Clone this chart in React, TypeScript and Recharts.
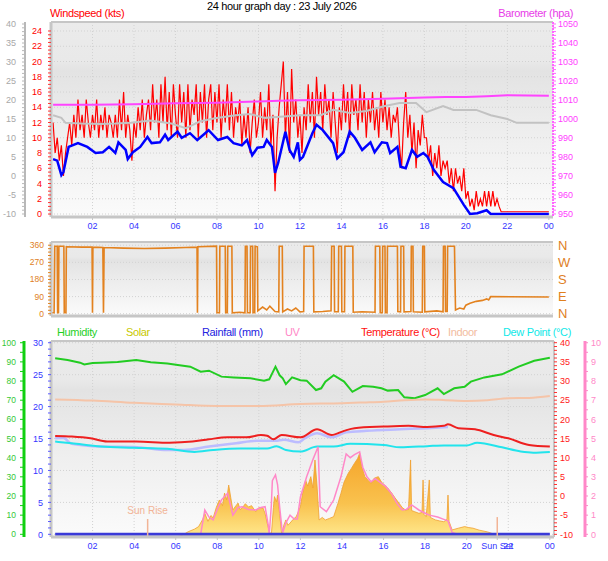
import React from "react";
import {
  ComposedChart,
  Line,
  Area,
  XAxis,
  YAxis,
  CartesianGrid,
  ReferenceLine,
} from "recharts";

const FONT = '"Liberation Sans", Arial, sans-serif';

// x axis (hours of the day)
const hourTicks = [2, 4, 6, 8, 10, 12, 14, 16, 18, 20, 22, 24];
const sunRise = 4.65;
const sunSet = 21.47;

// ---- top panel ----
// wind gusts (kts), one reading every 6 minutes starting 00:06
const gustStart = 0.1;
const gustStep = 0.1;
const gustKts = [
  12, 8, 10, 7, 9, 5, 8, 10, 12, 9,
  13, 10, 15, 11, 13, 10, 15, 12, 10, 13,
  11, 15, 10, 13, 11, 14, 10, 13, 12, 10,
  13, 10, 15, 11, 16, 10, 13, 11, 7, 12,
  10, 14, 11, 15, 10, 13, 15, 11, 17, 12,
  15, 10, 17, 12, 18, 11, 16, 10, 17, 13,
  10, 17, 12, 16, 10, 17, 11, 15, 13, 17,
  10, 16, 12, 17, 10, 15, 17, 11, 16, 12,
  17, 10, 15, 12, 17, 11, 16, 10, 14, 12,
  15, 9, 13, 10, 14, 8, 12, 15, 10, 12,
  16, 10, 14, 11, 17, 9, 13, 3, 10, 14,
  17, 20, 10, 16, 8, 19, 12, 15, 10, 13,
  8, 14, 11, 17, 12, 16, 10, 18, 13, 16,
  11, 17, 13, 15, 10, 16, 12, 8, 14, 11,
  17, 12, 16, 10, 17, 13, 15, 11, 17, 12,
  16, 10, 15, 12, 16, 11, 14, 10, 16, 12,
  15, 11, 14, 10, 13, 12, 14, 9, 6, 12,
  16, 10, 13, 8, 12, 6, 11, 9, 13, 10,
  10, 7, 9, 5, 8, 6, 9, 5, 7, 6,
  7, 4, 6, 3, 6, 4, 5, 3, 6, 2,
  3, 1, 2, 0.5, 3, 1, 2, 1, 3, 1,
  3, 1, 3, 1, 2, 1,
];
const gustTail = [[21.7, 0.3], [24, 0.3]];

// average wind speed (kts) [hour, value]
const avgKts = [
  [0.1, 7.2], [0.3, 7.0], [0.5, 5.1], [0.6, 5.5], [0.85, 8.8], [1.3, 9.3], [1.75, 8.8],
  [2.15, 8.0], [2.5, 8.1], [2.8, 8.8], [3.1, 8.0], [3.25, 9.4], [3.6, 8.4], [3.7, 7.2],
  [3.95, 8.1], [4.3, 8.8], [4.65, 10.1], [4.85, 9.3], [5.25, 9.4], [5.5, 10.4], [5.65, 9.7],
  [6.1, 10.8], [6.3, 10.0], [6.7, 10.6], [7.05, 9.7], [7.35, 10.4], [7.6, 11.0], [8.05, 9.7],
  [8.5, 10.1], [8.8, 9.3], [9.2, 9.0], [9.45, 9.7], [9.7, 7.7], [9.95, 8.7], [10.25, 8.8],
  [10.4, 9.7], [10.65, 8.8], [10.8, 5.4], [10.95, 6.7], [11.3, 10.8], [11.5, 8.4], [11.7, 7.5],
  [11.9, 9.4], [12.0, 7.1], [12.15, 7.5], [12.6, 10.6], [12.8, 11.7], [13.1, 11.0], [13.6, 9.3],
  [13.8, 7.3], [14.1, 8.1], [14.4, 10.8], [14.65, 10.0], [15.0, 8.4], [15.4, 9.4], [15.6, 8.1],
  [15.95, 9.4], [16.2, 9.3], [16.35, 8.0], [16.7, 8.8], [16.85, 6.2], [17.1, 6.0], [17.4, 8.4],
  [17.65, 7.5], [17.95, 8.0], [18.15, 7.5], [18.45, 5.8], [18.9, 4.2], [19.4, 3.4], [19.9, 1.2],
  [20.2, 0], [20.55, 0.1], [21.0, 0.5], [21.2, 0], [21.5, 0], [24, 0],
];

// grey trace read on the grey scale at the far left [hour, value]
const greyTrace = [
  [0.1, 16.0], [0.5, 15.3], [0.7, 14.0], [1.45, 13.8], [2.4, 13.7], [3.1, 13.8], [3.85, 14.0],
  [4.8, 14.6], [5.8, 13.8], [6.5, 12.6], [7.2, 14.4], [7.9, 15.2], [8.9, 16.0], [9.6, 16.3],
  [10.3, 15.3], [11.05, 15.6], [12.0, 16.0], [13.0, 16.0], [13.6, 17.4], [14.4, 16.6],
  [15.2, 17.1], [16.1, 18.4], [16.8, 19.2], [17.6, 19.2], [18.1, 16.8], [18.9, 18.4],
  [19.4, 17.4], [20.5, 17.4], [21.2, 16.0], [22.0, 15.0], [22.45, 14.0], [24, 14.0],
];

// barometer (hPa) [hour, value]
const baroHpa = [
  [0.1, 1007.5], [2, 1007.5], [4, 1007.8], [6, 1008.3], [8, 1008.6], [10, 1009.2],
  [11, 1009.6], [12, 1009.8], [14, 1010.1], [16, 1010.6], [18, 1011.3], [19, 1011.6],
  [20, 1011.6], [21, 1012.0], [22, 1012.5], [23, 1012.4], [24, 1012.2],
];

const wsTicks = [0, 2, 4, 6, 8, 10, 12, 14, 16, 18, 20, 22, 24];
const greyTicks = [-10, -5, 0, 5, 10, 15, 20, 25, 30, 35, 40];
const baroTicks = [950, 960, 970, 980, 990, 1000, 1010, 1020, 1030, 1040, 1050];

// ---- middle panel ----
// wind direction (degrees) [hour, value]
const dirDeg = [
  [0.05, 5], [0.15, 5], [0.18, 355], [0.3, 355], [0.32, 5], [0.36, 5], [0.38, 355], [0.62, 355],
  [0.64, 5], [0.72, 5], [0.74, 352], [1.5, 350], [1.98, 350], [2.0, 5], [2.02, 350], [2.5, 348],
  [2.53, 5], [2.56, 348], [3.5, 345], [4.5, 343], [5.5, 345], [6.5, 348], [7.04, 350], [7.06, 5],
  [7.08, 352], [7.98, 355], [8.0, 5], [8.12, 5], [8.14, 355], [8.4, 355], [8.42, 5], [8.5, 5],
  [8.52, 355], [8.72, 355], [8.74, 5], [9.1, 8], [9.35, 5], [9.37, 355], [9.45, 355], [9.47, 5],
  [9.6, 5], [9.62, 355], [9.72, 355], [9.74, 5], [9.82, 5], [9.84, 355], [9.95, 352], [9.97, 15],
  [10.2, 35], [10.4, 20], [10.55, 40], [10.8, 12], [10.98, 10], [11.0, 355], [11.15, 355],
  [11.17, 10], [11.4, 25], [11.6, 15], [11.8, 30], [12.0, 10], [12.18, 12], [12.2, 355],
  [12.65, 355], [12.67, 10], [13.1, 12], [13.5, 15], [13.53, 355], [13.65, 355], [13.67, 10],
  [13.85, 10], [13.87, 355], [14.0, 355], [14.02, 10], [14.15, 10], [14.17, 355], [14.55, 355],
  [14.57, 8], [15.0, 10], [15.62, 8], [15.64, 355], [15.85, 355], [15.87, 5], [15.97, 5],
  [15.99, 355], [16.1, 355], [16.12, 5], [16.2, 5], [16.22, 355], [16.7, 355], [16.72, 12],
  [16.85, 10], [16.87, 355], [17.0, 355], [17.02, 10], [17.35, 12], [17.37, 355], [17.45, 355],
  [17.47, 10], [17.9, 8], [17.92, 355], [18.0, 355], [18.02, 10], [18.6, 15], [18.9, 10],
  [18.92, 355], [19.0, 355], [19.02, 12], [19.1, 12], [19.12, 355], [19.45, 355], [19.5, 20],
  [19.7, 30], [19.9, 25], [20.0, 45], [20.2, 55], [20.5, 65], [20.8, 70], [21.0, 78],
  [21.1, 72], [21.2, 90], [24, 88],
];
const dirTicks = [0, 90, 180, 270, 360];
const compass = ["N", "E", "S", "W", "N"];

// ---- bottom panel ----
const humidityPct = [
  [0.2, 91.9], [0.8, 91], [1.4, 89.6], [1.6, 88.7], [2.0, 89.4], [2.4, 89.6], [3.2, 90],
  [4.1, 91], [4.8, 89.8], [5.6, 89.2], [6.1, 88.4], [6.7, 87.5], [7.2, 84.9], [7.6, 85.4],
  [8.2, 82.3], [8.8, 81.9], [9.6, 81.4], [10.25, 80.2], [10.5, 80.9], [10.8, 87.5], [11.0, 83],
  [11.15, 81.4], [11.3, 78.4], [11.6, 81.9], [12.0, 80.4], [12.3, 80.2], [12.75, 75.3],
  [13.0, 76.2], [13.2, 79.7], [13.6, 83.1], [14.1, 79.7], [14.5, 74.4], [15.0, 77.4],
  [15.5, 77], [15.9, 76.2], [16.2, 75], [16.7, 75.3], [17.0, 71.5], [17.5, 71], [18.0, 72.7],
  [18.6, 76.2], [18.9, 73.2], [19.4, 76.2], [19.9, 77], [20.2, 79.7], [20.85, 81.9],
  [21.7, 83.5], [22.5, 87.5], [23.25, 90.6], [24, 92.2],
];
const indoorC = [
  [0.2, 25.2], [2, 24.9], [4, 24.3], [6, 23.9], [8, 23.5], [10, 23.5], [12, 24.0], [14, 24.2],
  [15, 24.4], [16, 24.6], [17, 25.0], [18, 25.2], [19, 25.0], [20, 24.8], [21, 25.0],
  [22, 25.5], [23, 25.6], [24, 26.1],
];
const temperatureC = [
  [0.2, 15.65], [1.0, 15.5], [1.9, 15.05], [2.7, 14.2], [4.1, 14.2], [5.7, 13.9], [6.8, 14.2],
  [7.6, 14.8], [8.5, 15.3], [9.4, 15.3], [10.1, 15.9], [10.4, 15.7], [10.7, 14.8], [11.1, 15.9],
  [12.0, 15.3], [12.8, 17.4], [13.5, 15.9], [14.1, 17.0], [14.6, 17.7], [16.0, 18.1],
  [17.2, 18.3], [18.1, 18.0], [18.9, 18.3], [19.1, 18.7], [19.6, 17.7], [20.4, 17.4],
  [21.3, 15.9], [22.0, 15.05], [23.0, 13.3], [24, 12.9],
];
const apparentC = [
  [0.2, 15.05], [0.6, 15.1], [1.0, 13.6], [2.4, 12.9], [4.0, 12.8], [5.6, 12.0], [6.4, 12.0],
  [7.6, 12.9], [8.9, 13.75], [9.9, 14.4], [10.8, 14.4], [11.2, 14.7], [11.9, 14.0], [12.2, 15.0],
  [12.8, 16.4], [13.5, 15.3], [14.2, 16.6], [15.2, 17.0], [16.8, 17.4], [18.1, 17.7], [19.1, 18.0],
];
const dewPointC = [
  [0.2, 14.2], [1.0, 13.75], [2.4, 12.9], [4.0, 12.6], [5.6, 12.3], [6.9, 11.5], [7.8, 12.0],
  [9.1, 12.4], [10.4, 12.4], [10.85, 13.0], [11.3, 12.0], [12.0, 11.6], [12.8, 12.9],
  [13.6, 12.9], [14.4, 13.6], [16.0, 13.3], [16.8, 12.7], [18.1, 13.0], [18.9, 13.2],
  [20.0, 13.2], [20.5, 13.9], [21.7, 12.7], [22.6, 11.6], [23.2, 11.3], [24, 11.5],
];
const rainMm = [[0.2, 0], [24, 0]];
// solar radiation (W/m2) [hour, value]
const solarW = [
  [0.1, 0], [6.0, 0], [6.3, 8], [6.6, 27], [6.9, 40], [7.1, 53], [7.3, 90], [7.4, 121], [7.55, 80],
  [7.7, 110], [7.8, 97], [7.95, 150], [8.1, 189], [8.25, 160], [8.35, 224], [8.45, 190],
  [8.55, 265], [8.65, 200], [8.75, 138], [8.9, 160], [9.0, 173], [9.1, 140], [9.2, 148],
  [9.35, 170], [9.5, 153], [9.65, 160], [9.85, 129], [10.0, 150], [10.2, 148], [10.3, 120],
  [10.4, 71], [10.5, 30], [10.6, 10], [10.7, 150], [10.75, 206], [10.85, 180], [10.9, 214],
  [11.0, 120], [11.1, 10], [11.2, 60], [11.3, 87], [11.4, 60], [11.5, 71], [11.65, 90],
  [11.8, 104], [11.9, 130], [12.0, 155], [12.1, 220], [12.25, 291], [12.35, 260], [12.5, 308],
  [12.6, 250], [12.7, 393], [12.8, 260], [12.9, 87], [13.05, 100], [13.2, 87], [13.4, 95],
  [13.6, 104], [13.8, 170], [13.95, 223], [14.1, 280], [14.3, 325], [14.45, 350], [14.6, 376],
  [14.75, 400], [14.85, 427], [14.95, 360], [15.1, 308], [15.25, 290], [15.4, 274], [15.55, 300],
  [15.75, 308], [15.9, 280], [16.05, 265], [16.2, 250], [16.4, 223], [16.55, 200], [16.75, 172],
  [16.9, 150], [17.05, 138], [17.2, 140], [17.3, 393], [17.35, 135], [17.5, 129], [17.7, 121],
  [17.85, 125], [17.9, 291], [17.95, 115], [18.05, 104], [18.2, 291], [18.25, 100], [18.4, 92],
  [18.5, 87], [18.7, 82], [18.9, 78], [19.05, 90], [19.1, 214], [19.15, 80], [19.3, 36],
  [19.6, 45], [19.9, 53], [20.1, 48], [20.3, 45], [20.6, 35], [21.0, 26], [21.3, 15],
  [21.5, 10], [21.7, 0], [24, 0],
];
const uvIndex = [
  [7.2, 0], [7.4, 1.27], [7.6, 0.9], [7.8, 0.75], [8.0, 1.3], [8.2, 1.8], [8.5, 2.14], [8.75, 1.0],
  [9.0, 1.4], [9.2, 1.44], [9.5, 1.3], [9.85, 1.27], [10.1, 1.4], [10.3, 1.44], [10.45, 0.5],
  [10.5, 0], [10.6, 1.5], [10.65, 2.8], [10.8, 3.1], [10.9, 2.6], [11.0, 1.44], [11.1, 0.4],
  [11.15, 0.1], [11.3, 0.6], [11.5, 1.0], [11.7, 0.8], [11.85, 0.8], [12.0, 1.95], [12.3, 3.0],
  [12.6, 3.9], [12.85, 4.57], [12.95, 1.44], [13.25, 1.18], [13.6, 1.79], [13.95, 3.0],
  [14.2, 4.2], [14.4, 4.0], [14.6, 4.16], [14.85, 4.3], [15.0, 3.5], [15.2, 3.0], [15.4, 2.75],
  [15.6, 2.9], [15.9, 2.66], [16.1, 2.5], [16.4, 2.1], [16.65, 1.6], [16.9, 1.27], [17.1, 1.3],
  [17.35, 1.53], [17.7, 1.27], [18.0, 1.1], [18.2, 1.0], [18.6, 0.9], [18.9, 0.78], [19.1, 0.7],
  [19.3, 0.1], [19.55, 0],
];
const rainTicks = [0, 5, 10, 15, 20, 25, 30];
const humTicks = [0, 10, 20, 30, 40, 50, 60, 70, 80, 90, 100];
const tempTicks = [-10, -5, 0, 5, 10, 15, 20, 25, 30, 35, 40];
const uvTicks = [0, 1, 2, 3, 4, 5, 6, 7, 8, 9, 10];

const legendItems = [
  { name: "Humidity", color: "#1fd01f", x: 57 },
  { name: "Solar", color: "#c8c800", x: 126 },
  { name: "Rainfall (mm)", color: "#2323e0", x: 202 },
  { name: "UV", color: "#ff88c8", x: 285 },
  { name: "Temperature (°C)", color: "#ff1010", x: 361 },
  { name: "Indoor", color: "#f2bca0", x: 448 },
  { name: "Dew Point (°C)", color: "#10e8e8", x: 503 },
];

const pts = (arr: number[][]) => arr.map(([h, v]) => ({ h, v }));
const gustData = gustKts
  .map((v, i) => ({ h: +(gustStart + i * gustStep).toFixed(2), v }))
  .concat(pts(gustTail));

// minor tick marks between labelled ticks
const withMinor = (major: number[], parts: number) => {
  const out: number[] = [];
  for (let i = 0; i < major.length - 1; i++) {
    const s = (major[i + 1] - major[i]) / parts;
    for (let k = 0; k < parts; k++) out.push(+(major[i] + k * s).toFixed(3));
  }
  out.push(major[major.length - 1]);
  return out;
};
const labelIf = (major: number[]) => (v: number) => (major.includes(v) ? String(v) : "");
const fmtHour = (h: number) => (h === sunSet ? "Sun Set" : String(h % 24).padStart(2, "0"));

const GRID = "#d2d2d2";
const FRAME = "#c6c6c6";
const tickFont = (fill: string, size = 9) => ({ fill, fontSize: size, fontFamily: FONT });
const textStyle = { fontSize: 11, letterSpacing: -0.35, whiteSpace: "nowrap" as const };

function Background({ id }: { id: string }) {
  return (
    <defs>
      <linearGradient id={id} x1="0" y1="0" x2="0" y2="1">
        <stop offset="0" stopColor="#ebebeb" />
        <stop offset="0.2" stopColor="#e9e9e9" />
        <stop offset="0.25" stopColor="#e3e3e3" />
        <stop offset="0.5" stopColor="#ececec" />
        <stop offset="1" stopColor="#fbfbfb" />
      </linearGradient>
    </defs>
  );
}

// Recharts stacks same-side y axes by id order: the first id sits next to the plot.
function WindChart() {
  return (
    <ComposedChart width={608} height={236} margin={{ top: 22, right: 15, bottom: 0, left: 0 }}>
      <Background id="bgTop" />
      <CartesianGrid
        yAxisId="kts"
        fill="url(#bgTop)"
        stroke={GRID}
        strokeDasharray="1 2"
        horizontalValues={wsTicks}
        verticalValues={hourTicks.slice(0, -1)}
      />
      <XAxis
        type="number"
        dataKey="h"
        domain={[0, 24.2]}
        allowDataOverflow
        ticks={hourTicks}
        interval={0}
        tickFormatter={fmtHour}
        height={19}
        tickSize={3}
        tickMargin={3}
        tick={tickFont("#3535ff")}
        axisLine={{ stroke: FRAME, strokeWidth: 3 }}
        tickLine={{ stroke: FRAME }}
      />
      <YAxis
        yAxisId="kts"
        width={26}
        domain={[-0.39, 25.18]}
        allowDataOverflow
        ticks={withMinor(wsTicks, 4)}
        interval={0}
        tickFormatter={labelIf(wsTicks)}
        tickSize={3}
        tickMargin={6}
        tick={tickFont("#ff0000")}
        axisLine={{ stroke: FRAME, strokeWidth: 3 }}
        tickLine={{ stroke: "#ff3030" }}
      />
      <YAxis
        yAxisId="scale"
        width={25}
        domain={[-10.79, 40.53]}
        allowDataOverflow
        ticks={withMinor(greyTicks, 5)}
        interval={0}
        tickFormatter={labelIf(greyTicks)}
        tickSize={3}
        tickMargin={6}
        tick={tickFont("#a8a8a8")}
        axisLine={{ stroke: "#b8b8b8", strokeWidth: 2 }}
        tickLine={{ stroke: "#b8b8b8" }}
      />
      <YAxis
        yAxisId="baro"
        orientation="right"
        width={40}
        domain={[948.4, 1051.05]}
        allowDataOverflow
        ticks={withMinor(baroTicks, 5)}
        interval={0}
        tickFormatter={labelIf(baroTicks)}
        tickSize={3}
        tickMargin={2}
        tick={tickFont("#ff3cff")}
        axisLine={{ stroke: "#ff66ff", strokeWidth: 2, strokeDasharray: "2 1" }}
        tickLine={{ stroke: "#ff66ff" }}
      />
      <ReferenceLine yAxisId="kts" y={25.18} stroke={FRAME} strokeWidth={2} />
      <Line data={gustData} dataKey="v" yAxisId="kts" type="linear" stroke="#ff0000" strokeWidth={1.2} dot={false} isAnimationActive={false} />
      <Line data={pts(greyTrace)} dataKey="v" yAxisId="scale" type="linear" stroke="#c2c2c2" strokeWidth={2} dot={false} isAnimationActive={false} />
      <Line data={pts(baroHpa)} dataKey="v" yAxisId="baro" type="linear" stroke="#ff44ff" strokeWidth={2} dot={false} isAnimationActive={false} />
      <Line data={pts(avgKts)} dataKey="v" yAxisId="kts" type="linear" stroke="#0000ff" strokeWidth={2.5} dot={false} isAnimationActive={false} />
    </ComposedChart>
  );
}

function DirectionChart() {
  return (
    <ComposedChart width={608} height={84} margin={{ top: 6, right: 15, bottom: 0, left: 0 }}>
      <Background id="bgMid" />
      <CartesianGrid
        yAxisId="dir"
        fill="url(#bgMid)"
        stroke={GRID}
        strokeDasharray="1 2"
        horizontalValues={dirTicks}
        verticalValues={hourTicks.slice(0, -1)}
      />
      <XAxis
        type="number"
        dataKey="h"
        domain={[0, 24.2]}
        allowDataOverflow
        ticks={hourTicks}
        height={4}
        tick={false}
        tickSize={0}
        axisLine={{ stroke: FRAME, strokeWidth: 3 }}
      />
      <YAxis
        yAxisId="dir"
        width={51}
        domain={[-12, 377]}
        allowDataOverflow
        ticks={withMinor(dirTicks, 5)}
        interval={0}
        tickFormatter={labelIf(dirTicks)}
        tickSize={3}
        tickMargin={4}
        tick={tickFont("#e0801e", 8.5)}
        axisLine={{ stroke: FRAME, strokeWidth: 3 }}
        tickLine={{ stroke: "#e0801e" }}
      />
      <YAxis
        yAxisId="point"
        orientation="right"
        width={40}
        domain={[-12, 377]}
        allowDataOverflow
        ticks={dirTicks}
        interval={0}
        tickFormatter={(v: number) => compass[dirTicks.indexOf(v)]}
        tickSize={0}
        tickMargin={5}
        tick={tickFont("#e0801e", 13)}
        axisLine={false}
        tickLine={false}
      />
      <ReferenceLine yAxisId="dir" y={377} stroke={FRAME} strokeWidth={2} />
      <Line data={pts(dirDeg)} dataKey="v" yAxisId="dir" type="linear" stroke="#e3821f" strokeWidth={1.6} dot={false} isAnimationActive={false} />
    </ComposedChart>
  );
}

function WeatherChart() {
  const bottomTicks = [...hourTicks, sunSet].sort((a, b) => a - b);
  return (
    <ComposedChart width={608} height={241} margin={{ top: 21, right: 0, bottom: 5, left: 0 }}>
      <Background id="bgBot" />
      <defs>
        <linearGradient id="solarFill" x1="0" y1="0" x2="0" y2="1">
          <stop offset="0" stopColor="#f5a42a" />
          <stop offset="0.6" stopColor="#f9c24e" />
          <stop offset="1" stopColor="#ffe98e" />
        </linearGradient>
      </defs>
      <CartesianGrid
        yAxisId="mm"
        fill="url(#bgBot)"
        stroke={GRID}
        strokeDasharray="1 2"
        horizontalValues={rainTicks}
        verticalValues={hourTicks.slice(0, -1)}
      />
      <XAxis
        type="number"
        dataKey="h"
        domain={[0, 24.2]}
        allowDataOverflow
        ticks={bottomTicks}
        interval={0}
        tickFormatter={fmtHour}
        height={19}
        tickSize={3}
        tickMargin={3}
        tick={tickFont("#3535ff")}
        axisLine={{ stroke: FRAME, strokeWidth: 3 }}
        tickLine={{ stroke: FRAME }}
      />
      <YAxis
        yAxisId="mm"
        width={27}
        domain={[-0.42, 30.27]}
        allowDataOverflow
        ticks={withMinor(rainTicks, 5)}
        interval={0}
        tickFormatter={labelIf(rainTicks)}
        tickSize={3}
        tickMargin={5}
        tick={tickFont("#3535ff")}
        axisLine={{ stroke: FRAME, strokeWidth: 3 }}
        tickLine={{ stroke: "#5a5aff" }}
      />
      <YAxis
        yAxisId="pct"
        width={24}
        domain={[-1.4, 100.9]}
        allowDataOverflow
        ticks={withMinor(humTicks, 2)}
        interval={0}
        tickFormatter={labelIf(humTicks)}
        tickSize={4}
        tickMargin={4}
        tick={tickFont("#35c835", 8.5)}
        axisLine={{ stroke: "#10d010", strokeWidth: 3 }}
        tickLine={{ stroke: "#10d010" }}
      />
      <YAxis
        yAxisId="degC"
        orientation="right"
        width={31}
        domain={[-10.7, 40.44]}
        allowDataOverflow
        ticks={withMinor(tempTicks, 5)}
        interval={0}
        tickFormatter={labelIf(tempTicks)}
        tickSize={3}
        tickMargin={3}
        tick={tickFont("#ff2020")}
        axisLine={{ stroke: FRAME, strokeWidth: 2 }}
        tickLine={{ stroke: "#ff3030" }}
      />
      <YAxis
        yAxisId="uv"
        orientation="right"
        width={23}
        domain={[-0.14, 10.09]}
        allowDataOverflow
        ticks={withMinor(uvTicks, 2)}
        interval={0}
        tickFormatter={labelIf(uvTicks)}
        tickSize={3}
        tickMargin={3}
        tick={tickFont("#ff88c8")}
        axisLine={{ stroke: "#ff88c8", strokeWidth: 3 }}
        tickLine={{ stroke: "#ff88c8" }}
      />
      <YAxis yAxisId="wm2" hide domain={[0, 1000]} allowDataOverflow />
      <ReferenceLine yAxisId="mm" y={30.27} stroke={FRAME} strokeWidth={2} />
      <Area data={pts(solarW)} dataKey="v" yAxisId="wm2" type="linear" stroke="#f0a030" strokeWidth={0.8} fill="url(#solarFill)" fillOpacity={1} isAnimationActive={false} />
      <Line data={pts(humidityPct)} dataKey="v" yAxisId="pct" type="linear" stroke="#22cc22" strokeWidth={2} dot={false} isAnimationActive={false} />
      <Line data={pts(indoorC)} dataKey="v" yAxisId="degC" type="monotone" stroke="#f5c4a8" strokeWidth={2} dot={false} isAnimationActive={false} />
      <Line data={pts(apparentC)} dataKey="v" yAxisId="degC" type="monotone" stroke="#bcbcff" strokeWidth={2.5} dot={false} isAnimationActive={false} />
      <Line data={pts(temperatureC)} dataKey="v" yAxisId="degC" type="monotone" stroke="#ee2020" strokeWidth={2} dot={false} isAnimationActive={false} />
      <Line data={pts(dewPointC)} dataKey="v" yAxisId="degC" type="monotone" stroke="#22e4ec" strokeWidth={2} dot={false} isAnimationActive={false} />
      <Line data={pts(uvIndex)} dataKey="v" yAxisId="uv" type="linear" stroke="#ff88c8" strokeWidth={1.5} dot={false} isAnimationActive={false} />
      <Line data={pts(rainMm)} dataKey="v" yAxisId="mm" type="linear" stroke="#3a3ad8" strokeWidth={3} dot={false} isAnimationActive={false} />
      <ReferenceLine
        yAxisId="mm"
        segment={[{ x: sunRise, y: -0.42 }, { x: sunRise, y: 2.4 }]}
        stroke="#f2b496"
        strokeWidth={1.5}
        label={{ value: "Sun Rise", position: "top", fill: "#f2b496", fontSize: 10, fontFamily: FONT }}
      />
      <ReferenceLine
        yAxisId="mm"
        segment={[{ x: sunSet, y: -0.42 }, { x: sunSet, y: 2.7 }]}
        stroke="#f2b496"
        strokeWidth={1.5}
      />
    </ComposedChart>
  );
}

export default function App() {
  return (
    <div
      style={{
        position: "absolute",
        left: 0,
        top: 0,
        width: 608,
        height: 561,
        background: "#fff",
        fontFamily: FONT,
        overflow: "hidden",
      }}
    >
      <div style={{ position: "absolute", left: 0, top: 0 }}>
        <WindChart />
      </div>
      <div style={{ position: "absolute", left: 0, top: 236 }}>
        <DirectionChart />
      </div>
      <div style={{ position: "absolute", left: 0, top: 320 }}>
        <WeatherChart />
      </div>
      <div style={{ ...textStyle, position: "absolute", left: 207, top: 0, lineHeight: "13px", color: "#000" }}>
        24 hour graph day : 23 July 2026
      </div>
      <div style={{ ...textStyle, position: "absolute", left: 50, top: 7, color: "#ff0000" }}>
        Windspeed (kts)
      </div>
      <div style={{ ...textStyle, position: "absolute", right: 35, top: 7, color: "#e83ce8" }}>
        Barometer (hpa)
      </div>
      {legendItems.map((it) => (
        <div key={it.name} style={{ ...textStyle, position: "absolute", left: it.x, top: 326, color: it.color }}>
          {it.name}
        </div>
      ))}
    </div>
  );
}
